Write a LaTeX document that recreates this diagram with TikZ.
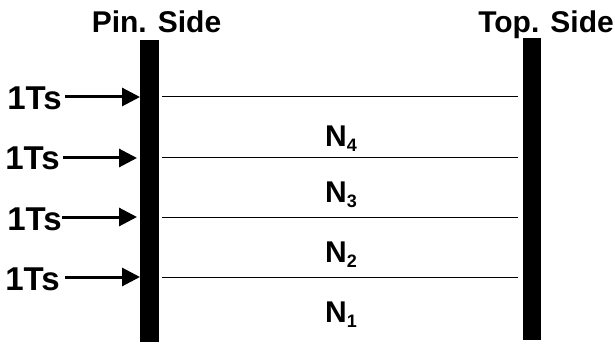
\documentclass[tikz,border=0pt]{standalone}
\usepackage{fontspec}
\setmainfont{Liberation Sans}
\usetikzlibrary{arrows.meta}

\tikzset{
  side/.style={font=\fontsize{30}{30}\selectfont\bfseries, inner sep=0pt},
  tslabel/.style={font=\fontsize{33}{33}\selectfont\bfseries, inner sep=0pt, anchor=base east},
  layer/.style={font=\fontsize{30}{30}\selectfont\bfseries, inner sep=0pt, anchor=base west},
  bar/.style={fill=black, inner sep=0pt, minimum width=19pt},
  feed/.style={line width=3pt, -{Triangle[length=18pt,width=18pt]}},
}
\newcommand{\layername}[1]{N\raisebox{-5pt}{\fontsize{18}{18}\selectfont\bfseries #1}}

\begin{document}
\begin{tikzpicture}[x=1pt,y=-1pt]
  \useasboundingbox (0,0) rectangle (615,358);
  % the two side walls
  \node[bar, minimum height=302pt] (pinbar) at (149.5,191) {};
  \node[bar, minimum height=302pt, minimum width=18pt] (topbar) at (532,189) {};
  \node[side, anchor=base] (pin) at (156.5,33) {Pin. Side};
  \node[side, anchor=base east] (top) at (614,33) {Top. Side};
  % layer boundaries
  \foreach \y in {97,158,217,277}
    \draw[line width=1pt] (162,\y) -- (518,\y);
  % inputs
  \foreach \i/\y/\b/\e/\s/\t in {1/97/110/62/65/140, 2/158/170/60/63/137,
                                 3/217/230/62/62/137, 4/277/290/60/65/140} {
    \node[tslabel] (ts\i) at (\e,\b) {1Ts};
    \coordinate (in\i) at (\t,\y);
    \draw[feed] (\s,\y) -- (in\i);
  }
  % layer names
  \node[layer] (n4) at (325,147) {\layername{4}};
  \node[layer] (n3) at (325,202) {\layername{3}};
  \node[layer] (n2) at (325,262) {\layername{2}};
  \node[layer] (n1) at (325,322) {\layername{1}};
\end{tikzpicture}
\end{document}
